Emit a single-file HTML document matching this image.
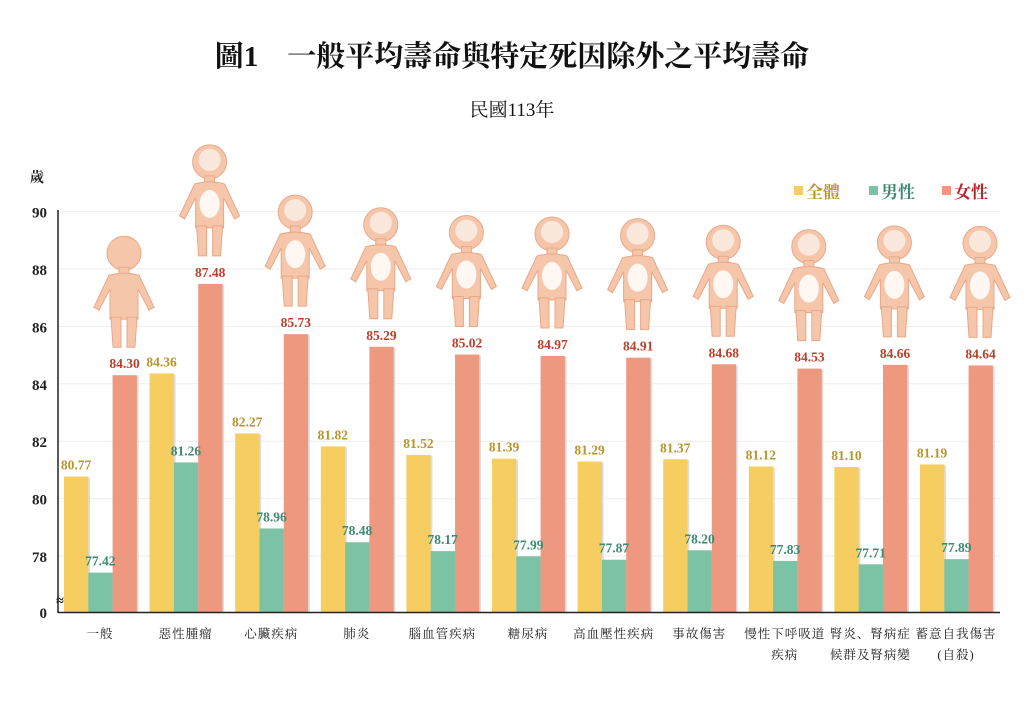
<!DOCTYPE html>
<html><head><meta charset="utf-8"><style>
body{margin:0;background:#fff;}
svg text{font-family:"Liberation Serif","Noto Serif CJK SC","Noto Sans CJK TC",serif;}
</style></head><body>
<svg id="s" width="1024" height="696" xmlns="http://www.w3.org/2000/svg">
<text x="512" y="66" text-anchor="middle" font-size="29" font-weight="bold" fill="#111">圖1　一般平均壽命與特定死因除外之平均壽命</text>
<text x="512" y="116" text-anchor="middle" font-size="19" fill="#111">民國113年</text>
<text x="30" y="182" font-size="14" font-weight="bold" fill="#222">歲</text>
<g font-size="17" font-weight="bold">
<rect x="794" y="186" width="9" height="9" fill="#f5cd60"/><text x="806" y="198" fill="#b8952a">全體</text>
<rect x="869" y="186" width="9" height="9" fill="#7cc3a5"/><text x="881" y="198" fill="#3d8a70">男性</text>
<rect x="942" y="186" width="9" height="9" fill="#ee9880"/><text x="954" y="198" fill="#b8232a">女性</text>
</g>
<g id="g"></g>
</svg>
<script>
const g=document.getElementById('g');let h='',lab='';
const yv=v=>556-(v-78)*28.7;
[90,88,86,84,82,80,78].forEach(t=>{const y=yv(t);h+=`<line x1="58" x2="1000" y1="${y}" y2="${y}" stroke="#eee"/><text x="47" y="${y+6}" text-anchor="end" font-size="15" font-weight="bold" fill="#222">${t}</text>`;});
h+=`<text x="47" y="618" text-anchor="end" font-size="15" font-weight="bold" fill="#222">0</text>`;
const d=[["一般",80.77,77.42,84.30],["惡性腫瘤",84.36,81.26,87.48],["心臟疾病",82.27,78.96,85.73],["肺炎",81.82,78.48,85.29],["腦血管疾病",81.52,78.17,85.02],["糖尿病",81.39,77.99,84.97],["高血壓性疾病",81.29,77.87,84.91],["事故傷害",81.37,78.20,84.68],["慢性下呼吸道|疾病",81.12,77.83,84.53],["腎炎、腎病症|候群及腎病變",81.10,77.71,84.66],["蓄意自我傷害|(自殺)",81.19,77.89,84.64]];
const cols=["#f5cd60","#7cc3a5","#ee9880"],tc=["#b8952a","#3d8a70","#b8402a"];
d.forEach((r,i)=>{const x0=64+i*85.6;
 for(let k=0;k<3;k++){const v=r[k+1],x=x0+k*24.3,y=yv(v);
  h+=`<rect x="${x+2}" y="${y+1}" width="24" height="${612-y}" fill="#ddd"/><rect x="${x}" y="${y}" width="24.3" height="${612-y}" fill="${cols[k]}"/>`;
  lab+=`<text x="${x+12}" y="${y-7}" text-anchor="middle" font-size="13.5" font-weight="bold" fill="${tc[k]}">${v.toFixed(2)}</text>`;}
 const cx=x0+36,ls=r[0].split('|');
 ls.forEach((l,j)=>lab+=`<text x="${cx}" y="${638+j*21}" text-anchor="middle" font-size="12.5" fill="#222" letter-spacing="1">${l}</text>`);
 const fb=yv(r[3])-26,fx=x0+60,top=fb-112;
 h+=`<g transform="translate(${fx},${top})" fill="#f6c6aa" stroke="#e8a888" stroke-width="1">
 <circle cx="0" cy="16" r="17"/><rect x="-5" y="30" width="10" height="8"/>
 <path d="M-15 38 Q0 34 15 38 L30 70 L25 73 L14 52 L14 82 L-14 82 L-14 52 L-25 73 L-30 70 Z"/>
 <path d="M-13 80 L-3 80 L-3 110 L-11 110 Z M3 80 L13 80 L11 110 L3 110 Z"/></g>`;
 if(i>0)h+=`<g transform="translate(${fx},${top})"><ellipse cx="0" cy="58" rx="10" ry="14" fill="#fff" opacity=".85"/><circle cx="0" cy="14" r="11" fill="#fff" opacity=".6"/></g>`;
});
h+=`<line x1="58" y1="210" x2="58" y2="613" stroke="#222" stroke-width="1.5"/><line x1="58" y1="612.5" x2="1000" y2="612.5" stroke="#222" stroke-width="1.5"/>`;
h+=`<text x="60" y="605" text-anchor="middle" font-size="14" font-weight="bold" fill="#222">≈</text>`;
g.innerHTML=h+lab;
</script>
</body></html>
